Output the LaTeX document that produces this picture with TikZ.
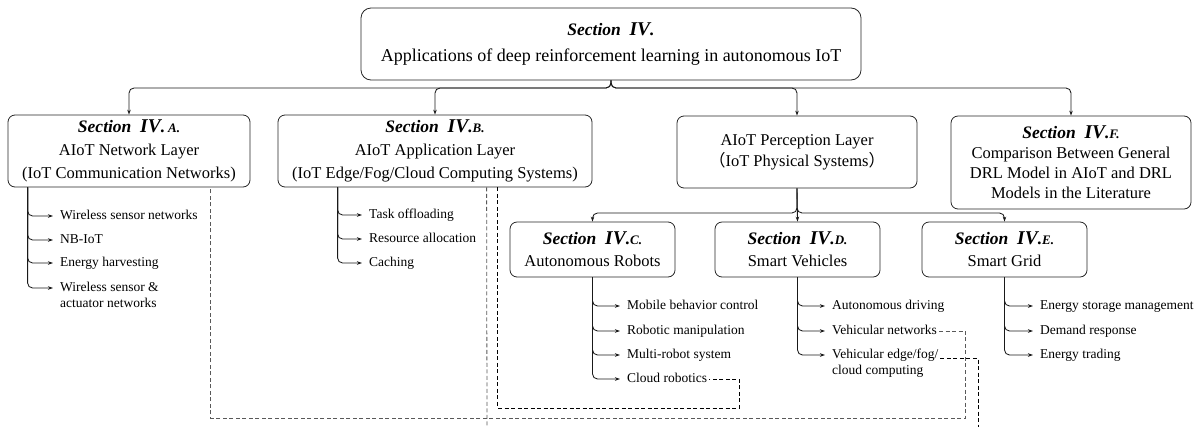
\documentclass[tikz,border=0pt]{standalone}
\usepackage{fontspec}
\setmainfont{Liberation Serif}
\newfontfamily\cjk{Noto Sans CJK SC}
\usetikzlibrary{arrows.meta,calc}
\newcommand\scl[1]{{\fontsize{13}{13}\selectfont #1}}
\newcommand\secthd[1]{{\bfseries\itshape\fontsize{17.5}{22}\selectfont Section\ \ {\fontsize{19.5}{22}\selectfont IV}.#1}}
\tikzset{
  box/.style={draw=black!85, line width=0.8pt, rounded corners=7pt, align=center, inner sep=0pt},
  item/.style={anchor=west, inner sep=0pt, font=\fontsize{13.5}{17}\selectfont, text height=9.5pt, text depth=3pt},
  itemb/.style={anchor=north west, inner sep=0pt, font=\fontsize{13.5}{17}\selectfont, text height=9.5pt, text depth=3pt},
  arr/.style={-{Stealth[length=5pt,width=3.5pt]}, line width=0.85pt, draw=black!90, rounded corners=5pt},
  larr/.style={arr, shorten >=7pt},
  dsh/.style={dash pattern=on 4pt off 2.5pt, line width=0.8pt},
}
\begin{document}
\begin{tikzpicture}[x=1pt,y=-1pt]
\useasboundingbox (0,0) rectangle (1198,426);
% boxes
\node[box, rounded corners=10pt, minimum width=500pt, minimum height=72pt, font=\fontsize{18}{26}\selectfont] (top) at (611,44)
  {\secthd{}\\Applications of deep reinforcement learning in autonomous IoT};
\node[box, minimum width=242pt, minimum height=72pt, font=\fontsize{16.5}{23}\selectfont] (A) at (129,151)
  {\secthd{\,\scl{A.}}\\AIoT Network Layer\\(IoT Communication Networks)};
\node[box, minimum width=314pt, minimum height=72pt, font=\fontsize{16.5}{23}\selectfont] (B) at (435,151)
  {\secthd{\scl{B.}}\\AIoT Application Layer\\(IoT Edge/Fog/Cloud Computing Systems)};
\node[box, minimum width=240pt, minimum height=72pt, font=\fontsize{16.5}{21}\selectfont] (P) at (797,152)
  {AIoT Perception Layer\\{\cjk （}IoT Physical Systems{\cjk ）}};
\node[box, minimum width=240pt, minimum height=93pt, font=\fontsize{16.5}{20}\selectfont] (F) at (1071,162.5)
  {\secthd{\scl{F.}}\\Comparison Between General\\DRL Model in AIoT and DRL\\Models in the Literature};
\node[box, minimum width=165pt, minimum height=55pt, font=\fontsize{16.5}{22}\selectfont] (C) at (592.5,249.5)
  {\secthd{\scl{C.}}\\Autonomous Robots};
\node[box, minimum width=165pt, minimum height=55pt, font=\fontsize{16.5}{22}\selectfont] (D) at (797.5,249.5)
  {\secthd{\scl{D.}}\\Smart Vehicles};
\node[box, minimum width=165pt, minimum height=55pt, font=\fontsize{16.5}{22}\selectfont] (E) at (1004.5,249.5)
  {\secthd{\scl{E.}}\\Smart Grid};
% top-level connectors
\coordinate (bus1) at (611,88);
\draw[arr] (top.south) -- (bus1) -| (A.north);
\draw[arr] (top.south) -- (bus1) -| (B.north);
\draw[arr] (top.south) -- (bus1) -| (P.north);
\draw[arr] (top.south) -- (bus1) -| (F.north);
\coordinate (bus2) at (797,213);
\draw[arr] (P.south) -- (bus2) -| (C.north);
\draw[arr] (P.south) -- (D.north);
\draw[arr] (P.south) -- (bus2) -| (E.north);
% list A
\node[item] (a1) at (60,216) {Wireless sensor networks};
\node[item] (a2) at (60,240) {NB-IoT};
\node[item] (a3) at (60,263) {Energy harvesting};
\node[item] (a4) at (60,288) {Wireless sensor \&};
\node[itemb, yshift=-3.5pt] (a4b) at (a4.south west) {actuator networks};
\coordinate (Ax) at ($(A.south west)+(20,0)$);
\foreach \i in {a1,a2,a3,a4} \draw[larr] (Ax) |- (\i.west);
% list B
\node[item] (b1) at (369,215) {Task offloading};
\node[item] (b2) at (369,239) {Resource allocation};
\node[item] (b3) at (369,263) {Caching};
\coordinate (Bx) at ($(B.south west)+(60,0)$);
\foreach \i in {b1,b2,b3} \draw[larr] (Bx) |- (\i.west);
% list C
\node[item] (c1) at (627,306) {Mobile behavior control};
\node[item] (c2) at (627,331) {Robotic manipulation};
\node[item] (c3) at (627,355) {Multi-robot system};
\node[item] (c4) at (627,379) {Cloud robotics};
\foreach \i in {c1,c2,c3,c4} \draw[larr] (C.south) |- (\i.west);
% list D
\node[item] (d1) at (832,306) {Autonomous driving};
\node[item] (d2) at (832,331) {Vehicular networks};
\node[item] (d3) at (832,355) {Vehicular edge/fog/};
\node[itemb, yshift=-3.5pt] (d3b) at (d3.south west) {cloud computing};
\foreach \i in {d1,d2,d3} \draw[larr] (D.south) |- (\i.west);
% list E
\node[item] (e1) at (1040,306) {Energy storage management};
\node[item] (e2) at (1040,331) {Demand response};
\node[item] (e3) at (1040,355) {Energy trading};
\foreach \i in {e1,e2,e3} \draw[larr] (E.south) |- (\i.west);
% dashed links
\coordinate (dA) at ($(A.south west)+(203,0)$);
\coordinate (k1) at (965,418);
\draw[dsh, black!65] ([xshift=2pt]d2.east) -| (k1) -| (dA);
\coordinate (dB1) at ($(B.south west)+(209,0)$);
\coordinate (k2) at (487,428);
\draw[dsh, black!65] (dB1) -- (k2);
\coordinate (dB2) at ($(B.south west)+(220,0)$);
\coordinate (k3) at (739,408);
\draw[dsh] (dB2) |- (k3) |- ([xshift=2pt]c4.east);
\coordinate (k4) at (978,428);
\draw[dsh] ([xshift=2pt]d3.base east) -| (k4);
\end{tikzpicture}
\end{document}
